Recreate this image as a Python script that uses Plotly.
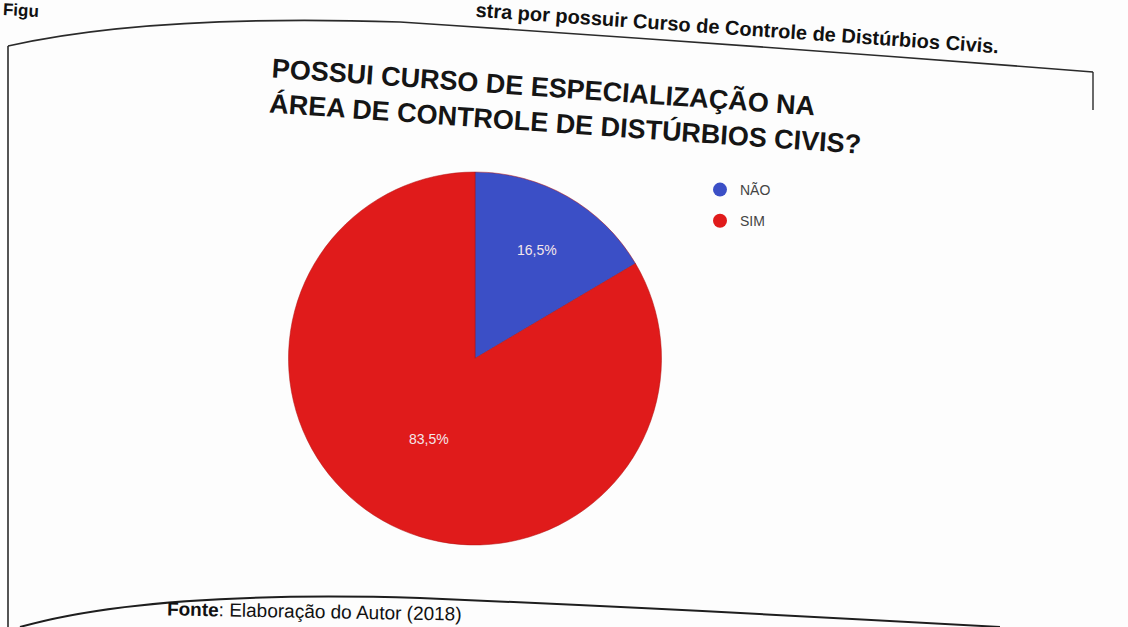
import plotly.graph_objects as go

# Survey answers: has a specialisation course in civil disturbance control?
categorias = ["NÃO", "SIM"]
percentuais = [16.5, 83.5]
rotulos = ["16,5%", "83,5%"]
cores = ["#3b4fc6", "#e01b1b"]

W, H = 1128, 627
FONTE = "Liberation Sans, Arial, sans-serif"


def px(x, y):
    """Pixel position on the page -> paper fraction."""
    return x / W, 1 - y / H


def path_from(points):
    pts = [px(x, y) for x, y in points]
    d = "M {:.4f},{:.4f}".format(*pts[0])
    for i in range(1, len(pts) - 1, 2):
        d += " Q {:.4f},{:.4f} {:.4f},{:.4f}".format(*pts[i], *pts[i + 1])
    return d


fig = go.Figure()

fig.add_trace(go.Pie(
    labels=categorias,
    values=percentuais,
    text=rotulos,
    textinfo="text",
    textposition="inside",
    insidetextorientation="horizontal",
    textfont=dict(family=FONTE, size=14, color="#f4e6ea"),
    marker=dict(colors=cores, line=dict(color="#b01010", width=0.5)),
    sort=False,
    direction="clockwise",
    rotation=0,
    domain=dict(x=[270 / W, 680 / W], y=[1 - 545 / H, 1 - 172 / H]),
    showlegend=False,
    hoverinfo="label+percent",
))

# round legend markers, one entry per category
for nome, cor in zip(categorias, cores):
    fig.add_trace(go.Scatter(
        x=[None], y=[None], mode="markers", name=nome,
        legendgroup=nome,
        marker=dict(symbol="circle", size=14, color=cor),
        showlegend=True, hoverinfo="skip",
    ))

shapes = [
    # top edge of the chart frame
    dict(type="path", xref="paper", yref="paper",
         path=path_from([(8, 46), (150, 14), (400, 22), (750, 45), (1093, 72)]),
         line=dict(color="#2a2a2a", width=1.6)),
    # left edge
    dict(type="line", xref="paper", yref="paper",
         x0=8 / W, y0=1 - 46 / H, x1=8 / W, y1=0,
         line=dict(color="#2a2a2a", width=1.6)),
    # right edge
    dict(type="line", xref="paper", yref="paper",
         x0=1093 / W, y0=1 - 72 / H, x1=1093 / W, y1=1 - 110 / H,
         line=dict(color="#2a2a2a", width=1.4)),
    # bottom edge
    dict(type="path", xref="paper", yref="paper",
         path=path_from([(20, 627), (150, 590), (420, 598), (700, 610), (1000, 627)]),
         line=dict(color="#1e1e1e", width=2)),
]

annotations = [
    dict(text="<b>POSSUI CURSO DE ESPECIALIZAÇÃO NA<br>ÁREA DE CONTROLE DE DISTÚRBIOS CIVIS?</b>",
         x=566 / W, y=1 - 106 / H, xref="paper", yref="paper",
         xanchor="center", yanchor="middle", align="left", showarrow=False,
         textangle=4,
         font=dict(family=FONTE, size=27, color="#151515")),
    dict(text="<b>stra por possuir Curso de Controle de Distúrbios Civis.</b>",
         x=737 / W, y=1 - 28 / H, xref="paper", yref="paper",
         xanchor="center", yanchor="middle", showarrow=False, textangle=4,
         font=dict(family=FONTE, size=20, color="#111111")),
    dict(text="<b>Figu</b>",
         x=0, y=1 - 10 / H, xref="paper", yref="paper",
         xanchor="left", yanchor="middle", showarrow=False, textangle=3,
         font=dict(family=FONTE, size=17, color="#111111")),
    dict(text="<b>Fonte</b>: Elaboração do Autor (2018)",
         x=165 / W, y=1 - 611 / H, xref="paper", yref="paper",
         xanchor="left", yanchor="middle", showarrow=False, textangle=1,
         font=dict(family=FONTE, size=19, color="#111111")),
]

fig.update_layout(
    width=W, height=H,
    margin=dict(l=0, r=0, t=0, b=0),
    paper_bgcolor="#fdfdfd",
    plot_bgcolor="rgba(0,0,0,0)",
    xaxis=dict(visible=False),
    yaxis=dict(visible=False),
    shapes=shapes,
    annotations=annotations,
    legend=dict(x=700 / W, y=1 - 174 / H, xanchor="left", yanchor="top",
                font=dict(family=FONTE, size=14, color="#444444"),
                itemwidth=30, tracegroupgap=10, bgcolor="rgba(0,0,0,0)"),
)

fig.write_html("out.html")
